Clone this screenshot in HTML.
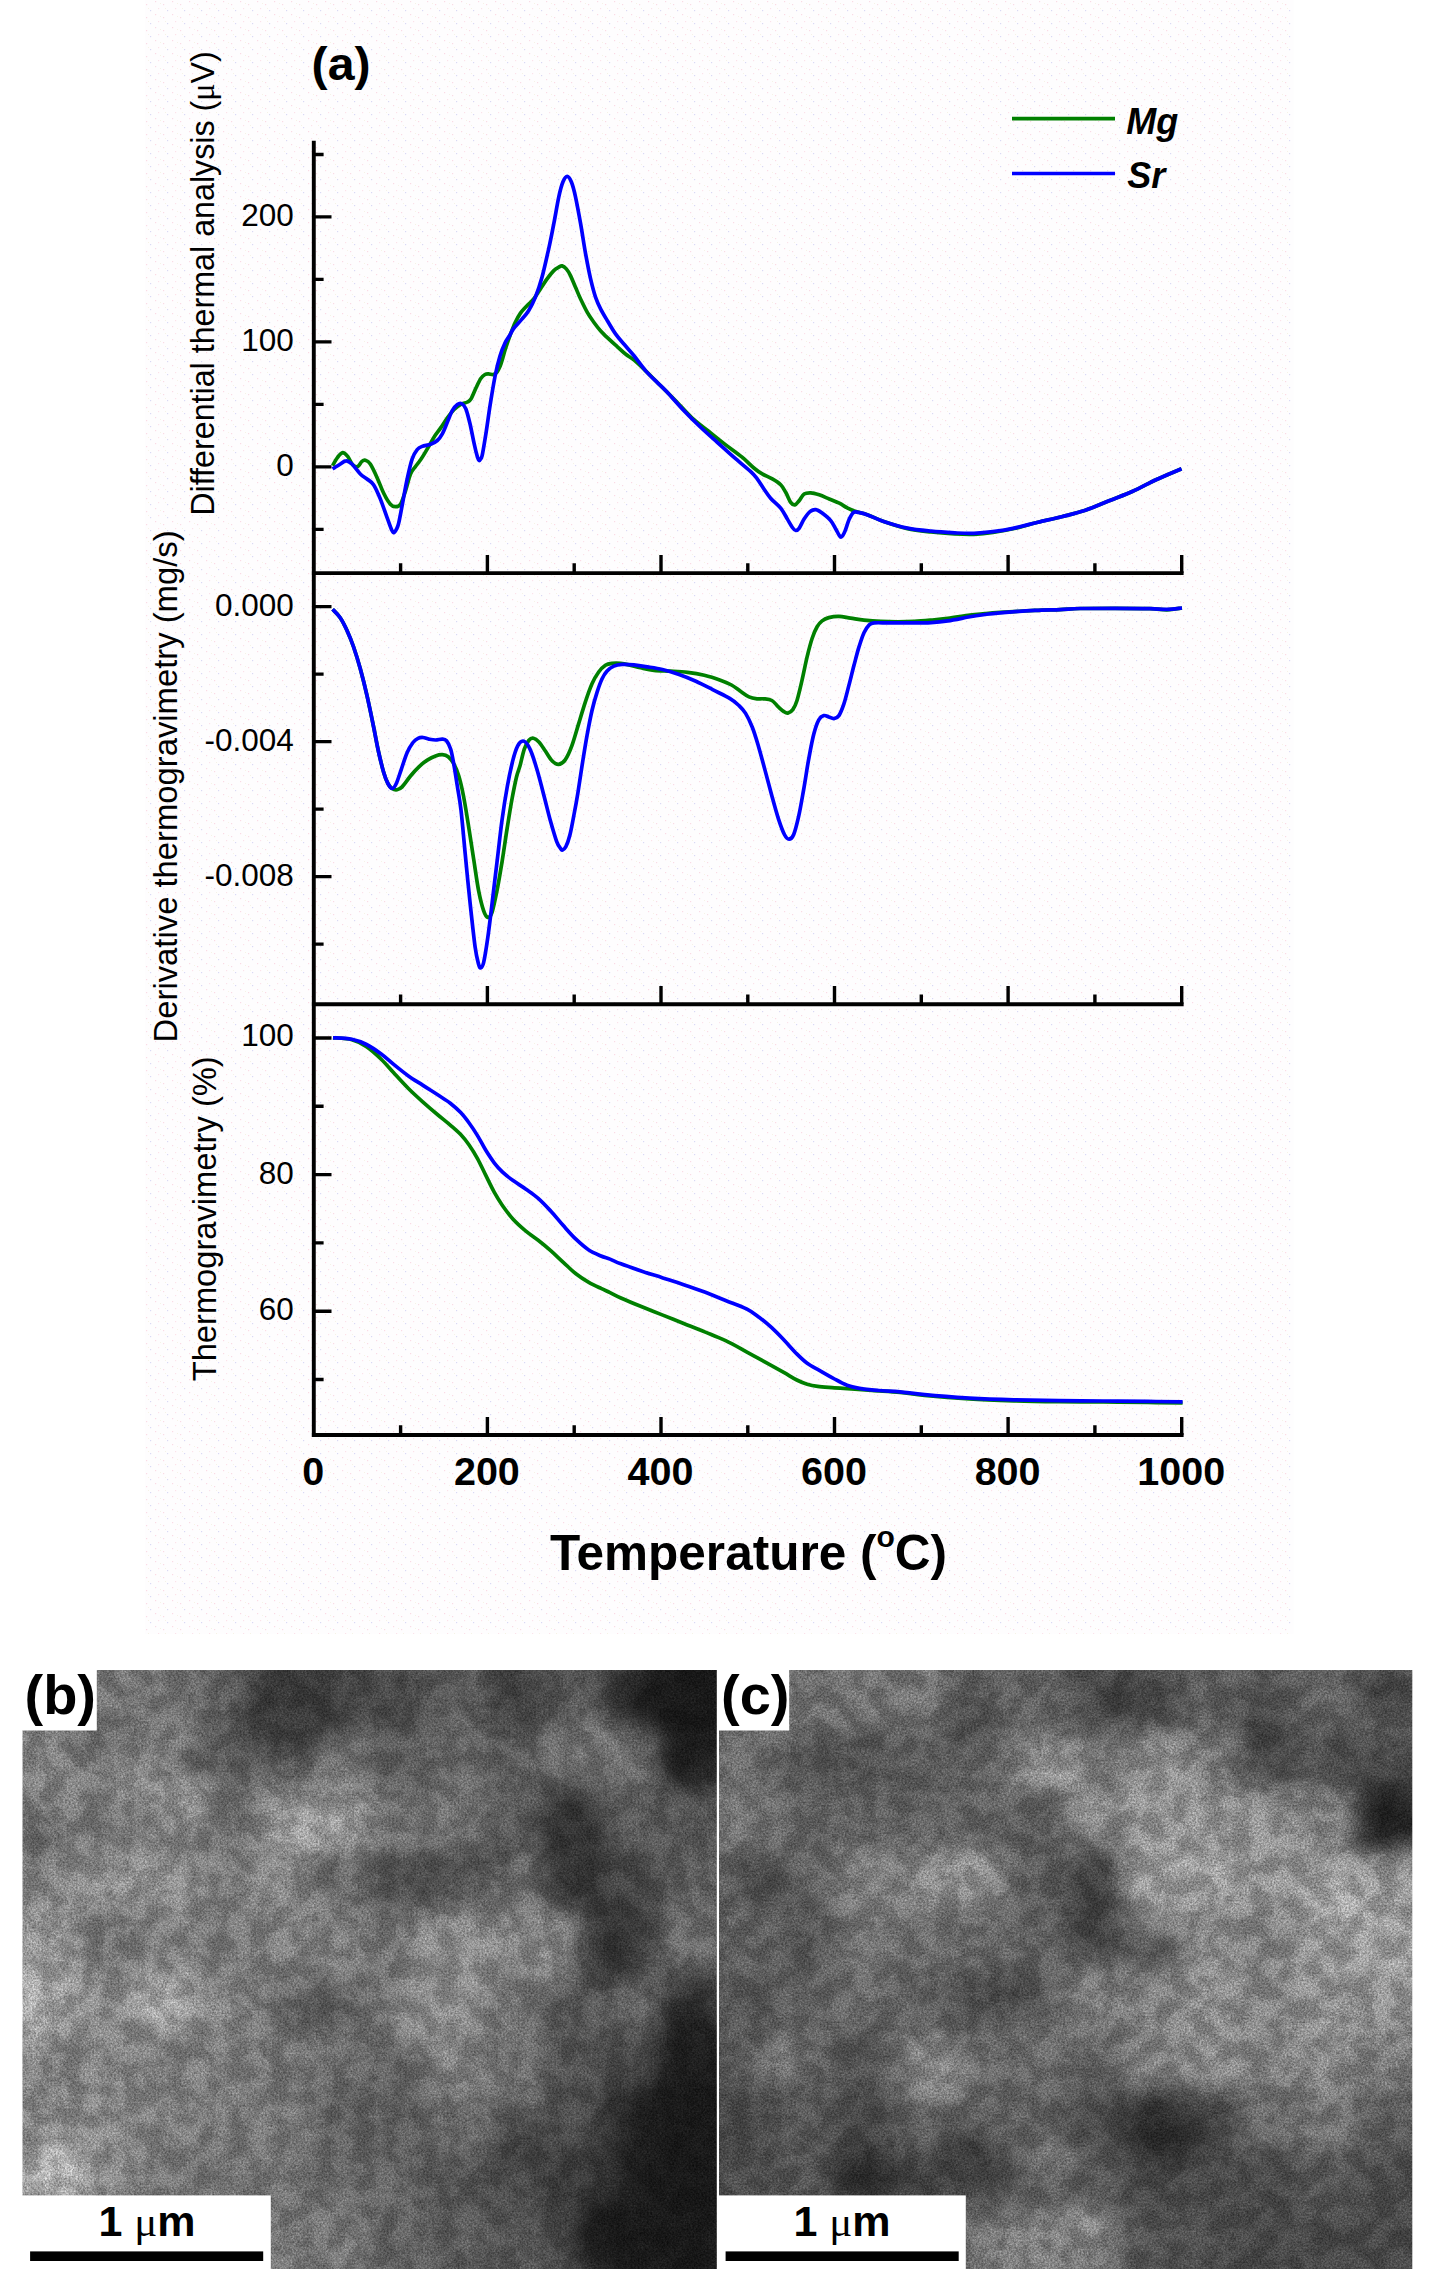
<!DOCTYPE html>
<html lang="en"><head><meta charset="utf-8"><title>Thermal analysis and SEM figure</title>
<style>html,body{margin:0;padding:0;background:#fff}body{width:1433px;height:2294px;overflow:hidden}svg{display:block}text{font-family:"Liberation Sans",Arial,sans-serif;fill:#000}.tk{font-size:31.5px;text-anchor:end}.xt{font-size:39.5px;font-weight:bold;text-anchor:middle}.yl{font-size:33.5px}.lg{font-size:36px;font-weight:bold;font-style:italic}</style></head><body>
<svg width="1433" height="2294" viewBox="0 0 1433 2294">
<defs>
<filter id="fb" x="0" y="0" width="100%" height="100%" filterUnits="objectBoundingBox" color-interpolation-filters="sRGB"><feGaussianBlur in="SourceGraphic" stdDeviation="11" result="base"/><feTurbulence type="fractalNoise" baseFrequency="0.048" numOctaves="4" seed="3" result="t1"/><feColorMatrix in="t1" type="matrix" values="1 0 0 0 0  1 0 0 0 0  1 0 0 0 0  0 0 0 0 1" result="n1a"/><feComponentTransfer in="n1a" result="n1"><feFuncR type="table" tableValues="0 0 0.02 0.12 0.5 0.88 0.98 1 1"/><feFuncG type="table" tableValues="0 0 0.02 0.12 0.5 0.88 0.98 1 1"/><feFuncB type="table" tableValues="0 0 0.02 0.12 0.5 0.88 0.98 1 1"/></feComponentTransfer><feTurbulence type="fractalNoise" baseFrequency="0.55" numOctaves="2" seed="8" result="t2"/><feColorMatrix in="t2" type="matrix" values="0 1 0 0 0  0 1 0 0 0  0 1 0 0 0  0 0 0 0 1" result="n2a"/><feGaussianBlur in="n2a" stdDeviation="0.5" result="n2"/><feComposite in="base" in2="n1" operator="arithmetic" k1="0.26" k2="0.87" k3="0" k4="0" result="m1"/><feComposite in="m1" in2="n2" operator="arithmetic" k1="0.7" k2="0.65" k3="0.08" k4="-0.04"/></filter>
<filter id="fc" x="0" y="0" width="100%" height="100%" filterUnits="objectBoundingBox" color-interpolation-filters="sRGB"><feGaussianBlur in="SourceGraphic" stdDeviation="11" result="base"/><feTurbulence type="fractalNoise" baseFrequency="0.048" numOctaves="4" seed="11" result="t1"/><feColorMatrix in="t1" type="matrix" values="1 0 0 0 0  1 0 0 0 0  1 0 0 0 0  0 0 0 0 1" result="n1a"/><feComponentTransfer in="n1a" result="n1"><feFuncR type="table" tableValues="0 0 0.02 0.12 0.5 0.88 0.98 1 1"/><feFuncG type="table" tableValues="0 0 0.02 0.12 0.5 0.88 0.98 1 1"/><feFuncB type="table" tableValues="0 0 0.02 0.12 0.5 0.88 0.98 1 1"/></feComponentTransfer><feTurbulence type="fractalNoise" baseFrequency="0.55" numOctaves="2" seed="16" result="t2"/><feColorMatrix in="t2" type="matrix" values="0 1 0 0 0  0 1 0 0 0  0 1 0 0 0  0 0 0 0 1" result="n2a"/><feGaussianBlur in="n2a" stdDeviation="0.5" result="n2"/><feComposite in="base" in2="n1" operator="arithmetic" k1="0.26" k2="0.87" k3="0" k4="0" result="m1"/><feComposite in="m1" in2="n2" operator="arithmetic" k1="0.7" k2="0.65" k3="0.08" k4="-0.04"/></filter>
<clipPath id="cb"><rect x="22.5" y="1670" width="694.3" height="599"/></clipPath>
<clipPath id="cc"><rect x="719" y="1670" width="693.3" height="599"/></clipPath>
<pattern id="dz" width="17" height="13" patternUnits="userSpaceOnUse"><rect x="2" y="1" width="1.2" height="1.2" fill="#fadbe5"/><rect x="10" y="4" width="1.2" height="1.2" fill="#fadbe5"/><rect x="5" y="8" width="1.2" height="1.2" fill="#fbe2ea"/><rect x="14" y="10" width="1.2" height="1.2" fill="#d9d9f5"/><rect x="7" y="3" width="1" height="1" fill="#f6f3e6"/><rect x="12" y="8" width="1" height="1" fill="#f6f3e6"/></pattern>
</defs>
<rect x="145" y="0" width="1148.5" height="1634" fill="#fefdfe"/>
<rect x="145" y="0" width="1148.5" height="1634" fill="url(#dz)"/>
<g stroke="#000" stroke-width="3.9" fill="none" stroke-linecap="butt">
<path d="M313.8 140.8V1437.0"/>
<path d="M311.9 573.1H1183.6"/>
<path d="M311.9 1004.2H1183.6"/>
<path d="M311.9 1435.0H1183.6"/>
<path stroke-width="3.4" d="M400.6 573.1v-9.8M487.4 573.1v-18.1M574.2 573.1v-9.8M661.0 573.1v-18.1M747.8 573.1v-9.8M834.5 573.1v-18.1M921.3 573.1v-9.8M1008.1 573.1v-18.1M1094.9 573.1v-9.8M1181.7 573.1v-18.1M400.6 1004.2v-9.8M487.4 1004.2v-18.1M574.2 1004.2v-9.8M661.0 1004.2v-18.1M747.8 1004.2v-9.8M834.5 1004.2v-18.1M921.3 1004.2v-9.8M1008.1 1004.2v-18.1M1094.9 1004.2v-9.8M1181.7 1004.2v-18.1M400.6 1435.0v-9.8M487.4 1435.0v-18.1M574.2 1435.0v-9.8M661.0 1435.0v-18.1M747.8 1435.0v-9.8M834.5 1435.0v-18.1M921.3 1435.0v-9.8M1008.1 1435.0v-18.1M1094.9 1435.0v-9.8M1181.7 1435.0v-18.1"/>
<path stroke-width="3.4" d="M313.8 216.9h17.7M313.8 341.9h17.7M313.8 466.9h17.7M313.8 606.6h17.7M313.8 741.6h17.7M313.8 876.6h17.7M313.8 1038.0h17.7M313.8 1174.6h17.7M313.8 1311.2h17.7M313.8 154.5h9.8M313.8 279.4h9.8M313.8 404.4h9.8M313.8 529.4h9.8M313.8 674.1h9.8M313.8 809.1h9.8M313.8 944.1h9.8M313.8 1106.3h9.8M313.8 1242.9h9.8M313.8 1379.5h9.8"/>
</g>
<g fill="none" stroke-width="3.7" stroke-linejoin="round" stroke-linecap="butt">
<path stroke="#008000" d="M332.6 465.6C333.4 464.2 335.9 459.5 337.6 457.3C339.3 455.1 341.0 452.8 342.7 452.6C344.4 452.5 346.0 454.4 347.7 456.4C349.4 458.4 351.0 463.1 352.7 464.8C354.4 466.5 356.2 467.1 357.7 466.5C359.2 465.9 360.6 462.4 361.9 461.4C363.2 460.4 363.9 459.9 365.3 460.3C366.7 460.7 368.4 461.1 370.3 464.0C372.2 466.9 374.8 472.5 377.0 477.4C379.2 482.3 381.5 488.8 383.7 493.3C385.9 497.8 388.4 502.0 390.4 504.2C392.3 506.4 393.7 506.7 395.4 506.7C397.1 506.7 398.8 506.8 400.5 504.2C402.2 501.6 403.8 495.8 405.5 490.8C407.2 485.8 408.8 478.1 410.5 474.0C412.2 469.9 413.8 468.9 415.5 466.5C417.2 464.1 418.6 462.7 420.6 459.8C422.6 456.9 425.1 452.7 427.3 448.9C429.5 445.1 431.8 440.7 434.0 437.2C436.2 433.7 438.5 431.1 440.7 427.9C442.9 424.7 445.2 421.0 447.4 417.9C449.6 414.8 451.9 411.7 454.1 409.5C456.3 407.3 458.6 405.8 460.8 404.5C463.0 403.2 465.8 403.0 467.5 402.0C469.2 401.0 469.8 401.0 471.2 398.6C472.6 396.2 474.6 390.9 476.2 387.5C477.8 384.1 479.3 380.7 480.8 378.5C482.3 376.3 483.7 375.3 485.0 374.5C486.3 373.7 487.0 373.8 488.4 373.8C489.8 373.8 492.0 374.9 493.4 374.6C494.8 374.3 495.9 373.4 497.0 372.0C498.1 370.6 499.2 368.3 500.2 366.0C501.2 363.7 502.0 360.8 502.8 358.0C503.6 355.2 504.0 353.3 505.2 349.5C506.4 345.7 508.5 339.5 510.2 335.0C511.9 330.5 513.5 326.1 515.2 322.5C516.9 318.9 518.3 316.1 520.3 313.3C522.3 310.5 524.8 308.1 527.0 305.7C529.2 303.3 531.5 301.8 533.7 299.0C535.9 296.2 538.2 292.4 540.4 289.0C542.6 285.6 544.9 282.0 547.1 278.9C549.3 275.8 551.8 272.6 553.8 270.6C555.8 268.7 557.4 268.0 558.8 267.2C560.2 266.4 560.9 265.6 562.1 265.9C563.4 266.2 564.9 267.3 566.3 268.9C567.7 270.5 569.0 272.5 570.5 275.6C572.0 278.7 573.8 283.4 575.5 287.3C577.2 291.2 578.6 294.8 580.6 299.0C582.6 303.2 585.1 308.5 587.3 312.4C589.5 316.3 591.8 319.4 594.0 322.5C596.2 325.6 598.2 328.1 600.7 330.9C603.2 333.7 606.2 336.5 609.0 339.2C611.8 341.9 614.6 344.3 617.4 346.8C620.2 349.3 623.0 352.1 625.8 354.3C628.6 356.5 630.9 357.4 634.2 360.2C637.6 363.0 642.0 367.3 645.9 371.1C649.8 374.9 652.9 378.1 657.6 382.8C662.4 387.5 668.7 393.7 674.4 399.5C680.1 405.3 686.2 412.5 691.9 417.8C697.6 423.1 703.0 426.7 708.6 431.2C714.2 435.7 719.8 440.3 725.4 444.6C731.0 448.9 737.4 453.3 742.1 457.2C746.9 461.1 750.5 465.2 753.9 468.0C757.2 470.8 759.1 472.1 762.2 473.9C765.3 475.7 769.2 477.1 772.3 478.9C775.4 480.7 778.5 482.6 780.7 484.8C782.9 487.0 784.0 489.4 785.7 492.3C787.4 495.2 789.2 500.3 790.7 502.4C792.2 504.5 793.5 505.2 794.9 504.9C796.3 504.6 797.6 502.5 799.1 500.7C800.6 498.9 802.2 495.3 804.1 494.0C806.0 492.7 808.3 492.7 810.8 492.8C813.3 492.9 816.1 493.8 819.2 494.8C822.3 495.8 825.9 497.6 829.2 499.0C832.6 500.4 836.2 501.7 839.3 503.2C842.4 504.7 844.9 506.8 847.7 508.2C850.5 509.6 852.6 510.5 856.0 511.6C859.4 512.7 863.2 513.2 867.8 514.9C872.4 516.5 877.1 519.2 883.7 521.5C890.3 523.8 899.5 526.9 907.4 528.6C915.3 530.4 923.3 531.1 931.2 532.0C939.1 532.9 947.8 533.5 954.9 533.9C962.0 534.3 967.6 534.5 973.9 534.3C980.2 534.1 986.2 533.5 992.9 532.5C999.6 531.5 1006.7 530.2 1014.2 528.5C1021.7 526.8 1030.0 524.2 1037.9 522.2C1045.8 520.2 1053.8 518.7 1061.7 516.7C1069.6 514.7 1077.5 513.0 1085.4 510.3C1093.3 507.6 1101.2 504.0 1109.1 500.8C1117.0 497.6 1124.9 494.9 1132.8 491.3C1140.7 487.8 1148.5 483.2 1156.6 479.5C1164.7 475.8 1177.3 470.6 1181.5 468.8"/>
<path stroke="#0000ff" d="M332.6 469.0C333.8 468.2 337.8 465.7 340.0 464.3C342.2 462.9 344.0 460.9 346.0 460.9C348.0 460.8 349.5 461.8 351.9 464.0C354.3 466.2 357.8 471.5 360.3 474.0C362.8 476.5 364.8 477.2 367.0 479.0C369.2 480.8 371.5 481.5 373.7 484.9C375.9 488.2 378.2 493.7 380.4 499.1C382.6 504.6 385.2 512.5 387.1 517.6C389.0 522.7 390.4 527.0 391.5 529.5C392.6 532.0 393.0 532.6 393.8 532.6C394.6 532.6 395.5 531.2 396.3 529.5C397.1 527.8 397.7 527.4 398.8 522.6C399.9 517.8 401.6 508.1 403.0 500.8C404.4 493.5 405.7 486.0 407.2 479.0C408.7 472.0 410.5 463.8 412.2 458.9C413.9 454.0 415.5 451.8 417.2 449.7C418.9 447.6 420.0 447.3 422.2 446.4C424.4 445.5 428.1 445.2 430.6 444.2C433.1 443.2 435.4 442.2 437.3 440.5C439.2 438.8 440.6 436.9 442.3 433.8C444.0 430.7 445.7 426.0 447.4 422.1C449.1 418.2 450.7 413.3 452.4 410.4C454.1 407.5 455.9 405.6 457.4 404.5C458.9 403.4 460.2 403.0 461.6 403.7C463.0 404.4 464.4 405.3 465.8 408.7C467.2 412.1 468.6 417.9 470.0 423.8C471.4 429.7 472.9 438.3 474.2 443.9C475.4 449.5 476.7 454.5 477.5 457.3C478.3 460.1 478.6 460.4 479.2 460.6C479.8 460.8 480.4 459.6 481.0 458.5C481.6 457.4 481.7 458.0 482.5 453.9C483.3 449.8 484.6 441.9 485.9 433.8C487.2 425.7 488.6 414.9 490.1 405.3C491.6 395.8 493.4 384.7 495.0 376.5C496.6 368.3 498.3 361.6 500.0 356.0C501.7 350.4 503.3 346.5 505.0 343.0C506.7 339.5 508.6 337.4 510.0 335.0C511.4 332.6 511.6 331.1 513.6 328.5C515.6 325.9 519.4 322.1 521.9 319.1C524.4 316.2 526.4 314.4 528.6 310.8C530.8 307.2 533.1 303.0 535.3 297.4C537.5 291.8 539.8 285.4 542.0 277.3C544.2 269.2 546.7 257.7 548.7 248.8C550.7 239.9 552.1 232.3 553.8 223.7C555.5 215.0 557.3 203.9 558.8 196.9C560.3 189.9 561.6 185.2 563.0 181.8C564.4 178.4 565.8 176.4 567.2 176.4C568.6 176.4 569.9 178.4 571.3 181.8C572.7 185.2 574.0 189.9 575.5 196.9C577.0 203.9 578.9 214.2 580.6 223.7C582.3 233.2 583.9 244.6 585.6 253.8C587.3 263.0 588.9 271.6 590.6 278.9C592.3 286.2 593.9 292.4 595.6 297.4C597.3 302.4 598.7 305.2 600.7 309.1C602.7 313.0 604.9 316.6 607.4 320.8C609.9 325.0 612.9 330.3 615.7 334.2C618.5 338.1 621.0 340.7 624.1 344.3C627.2 347.9 630.6 351.5 634.2 356.0C637.8 360.5 642.0 366.6 645.9 371.1C649.8 375.6 654.1 379.4 657.6 382.8C661.1 386.2 662.5 387.2 666.8 391.8C671.1 396.4 677.9 404.4 683.5 410.3C689.1 416.2 694.7 421.7 700.3 427.0C705.9 432.3 711.4 437.1 717.0 442.1C722.6 447.1 728.2 452.3 733.8 457.2C739.4 462.1 746.6 467.8 750.5 471.4C754.4 475.0 755.0 476.0 757.2 478.9C759.4 481.8 761.7 485.8 763.9 489.0C766.1 492.2 767.8 495.0 770.6 498.2C773.4 501.4 777.9 504.7 780.7 508.2C783.5 511.7 785.5 515.9 787.4 519.1C789.3 522.3 791.0 525.6 792.4 527.5C793.8 529.4 794.6 530.4 795.7 530.5C796.8 530.6 797.7 530.2 799.1 528.3C800.5 526.4 802.3 521.9 804.1 519.1C805.9 516.3 808.0 513.2 810.0 511.6C812.0 510.0 813.7 509.3 815.8 509.6C817.9 509.9 820.0 511.4 822.5 513.3C825.0 515.2 828.7 518.1 830.9 520.8C833.1 523.4 834.5 526.8 835.9 529.2C837.3 531.7 838.4 534.2 839.3 535.5C840.1 536.8 840.4 537.2 841.0 537.2C841.6 537.2 842.1 536.5 842.8 535.5C843.5 534.5 844.0 533.6 845.1 530.9C846.2 528.2 847.9 522.2 849.3 519.1C850.7 516.0 852.0 513.5 853.5 512.4C855.0 511.3 856.1 512.0 858.5 512.4C860.9 512.8 863.6 513.4 867.8 514.9C872.0 516.4 877.1 519.3 883.7 521.5C890.3 523.7 899.5 526.5 907.4 528.1C915.3 529.7 923.3 530.4 931.2 531.2C939.1 532.0 947.8 532.5 954.9 532.9C962.0 533.2 967.6 533.5 973.9 533.3C980.2 533.1 986.2 532.6 992.9 531.7C999.6 530.8 1006.7 529.7 1014.2 528.1C1021.7 526.5 1030.0 524.1 1037.9 522.2C1045.8 520.3 1053.8 518.7 1061.7 516.7C1069.6 514.7 1077.5 513.0 1085.4 510.3C1093.3 507.6 1101.2 504.0 1109.1 500.8C1117.0 497.6 1124.9 494.9 1132.8 491.3C1140.7 487.8 1148.5 483.2 1156.6 479.5C1164.7 475.8 1177.3 470.6 1181.5 468.8"/>
<path stroke="#008000" d="M332.6 609.3C333.9 610.7 337.8 614.2 340.2 617.7C342.6 621.2 344.7 625.4 346.9 630.3C349.1 635.2 351.4 640.6 353.6 647.0C355.8 653.4 358.1 660.7 360.3 668.8C362.5 676.9 364.8 685.8 367.0 695.6C369.2 705.4 371.8 717.9 373.7 727.4C375.6 736.9 377.0 745.0 378.7 752.5C380.4 760.0 382.2 767.4 383.7 772.6C385.2 777.8 386.5 780.9 387.9 783.5C389.3 786.1 390.6 787.5 392.1 788.5C393.6 789.5 395.4 790.0 397.1 789.7C398.8 789.4 399.9 789.2 402.1 786.9C404.3 784.6 407.7 779.4 410.5 776.0C413.3 772.6 416.1 769.4 418.9 766.8C421.7 764.1 424.5 761.9 427.3 760.1C430.1 758.3 433.1 756.8 435.6 755.9C438.1 755.0 440.2 754.6 442.3 754.7C444.4 754.8 446.2 755.1 448.2 756.7C450.2 758.3 452.3 761.1 454.1 764.3C455.9 767.5 457.2 770.8 458.8 776.0C460.4 781.2 461.9 787.8 463.4 795.5C464.9 803.2 466.3 812.0 468.0 822.5C469.7 833.0 471.8 847.4 473.6 858.8C475.4 870.1 476.9 882.0 478.6 890.6C480.3 899.2 482.1 906.2 483.6 910.7C485.1 915.2 486.4 917.1 487.8 917.4C489.2 917.7 490.5 916.9 492.0 912.4C493.5 907.9 495.3 899.0 497.0 890.6C498.7 882.2 500.3 872.4 502.0 862.1C503.7 851.8 505.4 839.2 507.1 828.6C508.8 818.0 510.5 807.1 512.1 798.5C513.7 789.9 515.2 782.5 516.5 777.0C517.8 771.5 518.7 770.4 520.0 765.8C521.3 761.1 522.8 753.4 524.3 749.1C525.8 744.9 527.4 742.1 528.9 740.3C530.4 738.5 531.8 738.0 533.5 738.3C535.2 738.6 537.0 740.0 538.9 742.0C540.8 744.0 542.9 747.4 545.0 750.5C547.1 753.6 549.5 758.2 551.8 760.5C554.0 762.8 556.3 764.5 558.5 764.4C560.7 764.3 563.0 763.0 565.2 759.9C567.4 756.8 569.7 751.7 571.9 745.7C574.1 739.7 576.4 731.2 578.6 723.9C580.8 716.6 583.1 708.8 585.3 702.1C587.5 695.4 589.8 688.7 592.0 683.7C594.2 678.7 596.5 675.1 598.7 672.0C600.9 668.9 603.2 666.8 605.4 665.3C607.6 663.8 609.6 663.6 612.1 663.3C614.6 663.0 617.7 663.0 620.5 663.3C623.3 663.6 625.5 664.1 628.9 664.9C632.2 665.6 636.4 666.9 640.6 667.8C644.8 668.7 649.0 669.8 654.0 670.3C659.0 670.8 665.2 670.8 670.8 671.1C676.4 671.4 681.9 671.6 687.5 672.3C693.1 673.0 698.7 673.9 704.3 675.3C709.9 676.6 716.5 678.8 721.0 680.4C725.5 682.0 728.2 683.2 731.5 685.0C734.8 686.8 737.6 689.3 740.5 691.3C743.4 693.3 746.2 695.6 749.0 696.9C751.8 698.2 754.6 698.6 757.0 698.9C759.4 699.2 761.0 698.5 763.5 698.8C766.0 699.1 769.4 699.1 771.9 700.5C774.4 701.9 776.6 705.4 778.6 707.2C780.6 709.0 782.1 710.4 783.6 711.4C785.1 712.4 786.3 713.4 787.8 713.1C789.3 712.8 791.3 711.8 792.8 709.7C794.3 707.6 795.5 705.4 797.0 700.5C798.5 695.6 800.3 687.7 802.0 680.4C803.7 673.1 805.4 663.9 807.1 656.9C808.8 649.9 810.4 643.5 812.1 638.5C813.8 633.5 815.4 629.7 817.1 626.8C818.8 623.9 820.2 622.4 822.1 620.9C824.0 619.4 826.0 618.4 828.8 617.6C831.6 616.9 835.3 616.3 838.9 616.4C842.5 616.5 846.4 617.5 850.6 618.1C854.8 618.7 859.0 619.6 864.0 620.1C869.0 620.6 875.2 621.1 880.8 621.4C886.4 621.7 891.9 621.8 897.5 621.8C903.1 621.8 908.7 621.7 914.3 621.4C919.9 621.1 925.4 620.6 931.0 620.1C936.6 619.6 941.3 619.2 947.8 618.4C954.3 617.6 963.8 615.9 970.0 615.1C976.2 614.3 980.0 614.1 985.0 613.6C990.0 613.1 991.7 612.9 1000.0 612.4C1008.3 611.9 1025.0 610.9 1035.0 610.4C1045.0 609.9 1052.5 609.9 1060.0 609.6C1067.5 609.3 1070.8 608.7 1080.0 608.5C1089.2 608.3 1103.3 608.3 1115.0 608.3C1126.7 608.3 1141.3 608.4 1150.0 608.6C1158.7 608.9 1161.7 609.9 1167.0 609.8C1172.3 609.7 1179.5 608.3 1182.0 608.0"/>
<path stroke="#0000ff" d="M332.6 609.3C333.9 610.7 337.8 614.2 340.2 617.7C342.6 621.2 344.7 625.4 346.9 630.3C349.1 635.2 351.4 640.6 353.6 647.0C355.8 653.4 358.1 660.7 360.3 668.8C362.5 676.9 364.8 685.8 367.0 695.6C369.2 705.4 371.8 717.9 373.7 727.4C375.6 736.9 377.0 745.0 378.7 752.5C380.4 760.0 382.2 767.4 383.7 772.6C385.2 777.8 386.5 780.9 387.9 783.5C389.3 786.1 390.7 788.5 392.1 788.5C393.5 788.5 394.8 786.7 396.3 783.5C397.8 780.3 399.5 774.5 401.3 769.3C403.1 764.1 405.2 757.0 407.2 752.5C409.1 748.0 411.2 744.9 413.0 742.5C414.8 740.1 416.3 739.1 418.0 738.3C419.7 737.5 421.3 737.4 423.1 737.5C424.9 737.6 426.8 738.7 428.9 739.1C431.0 739.5 433.4 740.0 435.6 740.0C437.8 740.0 440.5 739.0 442.3 739.1C444.1 739.2 445.1 739.1 446.5 740.8C447.9 742.5 449.4 745.0 450.7 749.2C452.0 753.4 453.0 759.8 454.1 766.0C455.2 772.2 456.2 779.2 457.4 786.5C458.5 793.8 459.7 798.8 461.0 810.0C462.3 821.2 463.7 838.1 465.2 853.8C466.7 869.5 468.5 888.4 470.2 904.0C471.9 919.6 473.8 937.6 475.2 947.6C476.6 957.6 477.7 960.9 478.6 964.3C479.5 967.6 480.0 968.0 480.8 967.7C481.6 967.4 482.4 967.6 483.6 962.6C484.8 957.6 486.4 947.3 487.8 937.5C489.2 927.7 490.5 916.6 492.0 904.0C493.5 891.4 495.3 876.1 497.0 862.1C498.7 848.1 500.3 832.9 502.0 820.3C503.7 807.7 505.5 796.4 507.3 786.5C509.1 776.6 511.0 767.7 512.7 760.9C514.4 754.1 516.0 749.1 517.7 745.8C519.4 742.5 521.2 741.1 522.9 741.0C524.6 740.9 526.3 742.8 527.8 745.0C529.3 747.2 530.5 750.0 532.0 754.0C533.5 758.0 534.9 762.5 536.9 769.3C538.9 776.1 541.5 786.1 543.7 794.7C546.0 803.3 548.2 812.9 550.4 820.7C552.6 828.5 555.0 836.9 556.7 841.6C558.4 846.3 559.8 847.3 560.7 848.7C561.6 850.1 561.5 850.3 562.3 850.0C563.1 849.7 564.4 849.5 565.7 847.0C567.0 844.5 568.5 840.5 569.9 835.0C571.3 829.5 572.8 821.1 574.1 814.0C575.5 806.9 576.7 800.2 578.0 792.2C579.3 784.2 580.5 775.4 582.0 766.0C583.5 756.6 585.3 744.9 587.0 735.6C588.7 726.4 590.3 717.8 592.0 710.5C593.7 703.2 595.4 697.4 597.1 692.1C598.8 686.8 600.4 682.2 602.1 678.7C603.8 675.2 605.2 673.2 607.1 671.1C609.0 669.0 611.3 667.2 613.8 666.1C616.3 665.0 618.9 664.6 622.2 664.4C625.6 664.2 630.0 664.5 633.9 664.9C637.8 665.3 640.9 665.8 645.6 666.6C650.4 667.4 656.8 668.2 662.4 669.5C668.0 670.8 673.5 672.5 679.1 674.5C684.7 676.5 690.3 678.7 695.9 681.2C701.5 683.7 707.0 686.7 712.6 689.6C718.2 692.5 725.3 695.8 729.7 698.4C734.1 701.0 736.2 703.0 738.9 705.5C741.5 708.0 743.4 709.8 745.6 713.4C747.8 717.0 750.3 722.2 752.3 727.3C754.3 732.4 755.6 736.7 757.8 744.0C759.9 751.3 762.9 762.2 765.2 770.9C767.6 779.6 769.7 787.9 771.9 796.0C774.1 804.1 776.5 813.0 778.6 819.4C780.7 825.8 782.7 831.2 784.4 834.5C786.1 837.8 787.5 839.2 789.0 839.2C790.5 839.2 792.1 838.4 793.7 834.5C795.3 830.6 797.0 823.6 798.7 816.1C800.4 808.6 802.0 798.8 803.7 789.3C805.4 779.8 807.0 768.3 808.7 759.1C810.4 749.9 812.1 740.5 813.8 734.0C815.5 727.5 817.1 722.9 818.8 719.8C820.5 716.7 822.1 716.1 823.8 715.6C825.5 715.1 827.1 716.4 828.8 716.9C830.5 717.4 832.2 718.8 833.9 718.6C835.6 718.4 837.2 718.1 838.9 715.6C840.6 713.1 842.2 708.9 843.9 703.9C845.6 698.9 847.2 691.8 848.9 685.4C850.6 679.0 852.3 671.7 854.0 665.3C855.7 658.9 857.3 652.3 859.0 646.9C860.7 641.5 862.3 636.3 864.0 632.7C865.7 629.1 867.3 626.7 869.0 625.1C870.7 623.5 870.8 623.3 874.1 622.9C877.5 622.5 882.4 622.9 889.1 622.9C895.8 622.9 907.3 622.9 914.3 622.9C921.3 622.9 925.4 622.9 931.0 622.6C936.6 622.3 941.3 621.9 947.8 620.9C954.3 619.9 963.8 617.9 970.0 616.8C976.2 615.7 980.0 615.2 985.0 614.5C990.0 613.8 991.7 613.5 1000.0 612.8C1008.3 612.1 1025.0 610.9 1035.0 610.4C1045.0 609.9 1052.5 609.9 1060.0 609.6C1067.5 609.3 1070.8 608.7 1080.0 608.5C1089.2 608.3 1103.3 608.3 1115.0 608.3C1126.7 608.3 1141.3 608.4 1150.0 608.6C1158.7 608.8 1161.7 609.4 1167.0 609.3C1172.3 609.2 1179.5 608.2 1182.0 608.0"/>
<path stroke="#008000" d="M333.0 1037.8C336.1 1038.1 346.3 1038.2 351.9 1039.7C357.5 1041.2 361.6 1043.3 366.5 1046.6C371.4 1049.8 376.7 1054.8 381.2 1059.2C385.7 1063.6 389.2 1067.9 393.7 1072.8C398.2 1077.7 403.5 1083.6 408.4 1088.5C413.3 1093.4 418.1 1097.7 423.0 1102.1C427.9 1106.5 433.1 1110.9 437.7 1114.7C442.2 1118.5 446.5 1121.8 450.3 1125.1C454.1 1128.4 457.6 1131.3 460.7 1134.6C463.8 1137.9 466.3 1141.0 469.1 1145.0C471.9 1149.0 474.7 1153.5 477.5 1158.6C480.3 1163.7 483.0 1169.8 485.8 1175.4C488.6 1181.0 491.4 1187.0 494.2 1192.1C497.0 1197.1 499.5 1201.2 502.6 1205.7C505.8 1210.2 509.3 1215.1 513.1 1219.3C516.9 1223.5 521.4 1227.4 525.6 1230.9C529.8 1234.4 534.0 1237.0 538.2 1240.3C542.4 1243.6 546.5 1247.0 550.7 1250.7C554.9 1254.4 559.1 1258.5 563.3 1262.3C567.5 1266.1 571.7 1270.5 575.9 1273.8C580.1 1277.1 584.2 1279.7 588.4 1282.1C592.6 1284.5 597.4 1286.7 601.0 1288.4C604.6 1290.2 606.7 1291.0 610.0 1292.6C613.3 1294.2 615.6 1295.6 620.9 1298.0C626.2 1300.4 634.9 1304.0 641.9 1306.8C648.9 1309.6 655.8 1312.3 662.8 1315.1C669.8 1317.9 676.7 1320.7 683.7 1323.5C690.7 1326.3 697.7 1329.0 704.7 1331.9C711.7 1334.8 718.6 1337.4 725.6 1340.7C732.6 1344.0 739.5 1348.0 746.5 1351.8C753.5 1355.6 761.2 1359.8 767.5 1363.3C773.8 1366.8 779.3 1369.9 784.2 1372.7C789.1 1375.5 793.0 1378.1 796.8 1380.0C800.6 1381.9 803.7 1383.2 807.2 1384.2C810.7 1385.2 813.2 1385.7 817.7 1386.3C822.2 1386.9 828.9 1387.3 834.5 1387.8C840.1 1388.2 844.9 1388.5 851.2 1389.0C857.5 1389.5 864.0 1389.9 872.1 1390.5C880.2 1391.1 891.2 1391.6 900.0 1392.4C908.8 1393.2 913.2 1394.3 924.7 1395.4C936.2 1396.5 954.4 1398.0 969.3 1398.9C984.2 1399.8 999.1 1400.3 1014.0 1400.8C1028.9 1401.3 1043.8 1401.5 1058.7 1401.7C1073.6 1401.9 1088.4 1401.9 1103.3 1402.0C1118.2 1402.1 1134.8 1402.2 1148.0 1402.4C1161.2 1402.6 1176.8 1402.9 1182.6 1403.0"/>
<path stroke="#0000ff" d="M333.0 1037.8C336.1 1038.0 346.3 1038.2 351.9 1039.3C357.5 1040.4 361.6 1042.0 366.5 1044.5C371.4 1047.0 376.7 1050.7 381.2 1054.0C385.7 1057.3 389.2 1060.8 393.7 1064.4C398.2 1068.1 403.5 1072.4 408.4 1075.9C413.3 1079.4 418.1 1082.2 423.0 1085.4C427.9 1088.6 433.1 1091.8 437.7 1094.8C442.2 1097.8 446.5 1100.2 450.3 1103.2C454.1 1106.2 457.6 1109.3 460.7 1112.6C463.8 1115.9 466.3 1119.2 469.1 1123.0C471.9 1126.8 474.7 1131.0 477.5 1135.6C480.3 1140.1 483.0 1145.8 485.8 1150.3C488.6 1154.8 491.4 1159.1 494.2 1162.8C497.0 1166.5 499.5 1169.2 502.6 1172.2C505.8 1175.2 509.3 1177.8 513.1 1180.6C516.9 1183.4 521.4 1186.0 525.6 1189.0C529.8 1192.0 534.0 1194.7 538.2 1198.4C542.4 1202.1 546.5 1206.5 550.7 1211.0C554.9 1215.5 559.1 1220.9 563.3 1225.6C567.5 1230.3 571.7 1235.2 575.9 1239.2C580.1 1243.2 584.2 1246.9 588.4 1249.7C592.6 1252.5 597.4 1254.4 601.0 1256.0C604.6 1257.6 606.7 1257.8 610.0 1259.1C613.3 1260.4 615.6 1261.8 620.9 1263.8C626.2 1265.8 634.9 1268.8 641.9 1271.2C648.9 1273.6 655.8 1275.6 662.8 1277.9C669.8 1280.2 676.7 1282.4 683.7 1284.8C690.7 1287.2 697.7 1289.5 704.7 1292.1C711.7 1294.7 718.6 1297.7 725.6 1300.5C732.6 1303.3 740.9 1306.1 746.5 1308.9C752.1 1311.7 754.9 1314.1 759.1 1317.2C763.3 1320.3 767.5 1323.9 771.7 1327.7C775.9 1331.5 780.0 1335.9 784.2 1340.3C788.4 1344.7 793.0 1350.1 796.8 1353.9C800.6 1357.7 803.4 1360.5 807.2 1363.3C811.0 1366.1 815.2 1368.0 819.8 1370.6C824.3 1373.2 830.0 1376.5 834.5 1379.0C839.0 1381.5 842.8 1383.7 847.0 1385.3C851.2 1386.9 854.4 1387.5 859.6 1388.4C864.8 1389.3 871.7 1389.9 878.4 1390.5C885.1 1391.1 892.3 1391.1 900.0 1391.8C907.7 1392.5 913.2 1393.7 924.7 1394.7C936.2 1395.8 954.4 1397.2 969.3 1398.1C984.2 1398.9 999.1 1399.4 1014.0 1399.8C1028.9 1400.2 1043.8 1400.5 1058.7 1400.7C1073.6 1400.9 1088.4 1400.9 1103.3 1401.0C1118.2 1401.1 1134.8 1401.2 1148.0 1401.4C1161.2 1401.6 1176.8 1401.8 1182.6 1401.9"/>
</g>
<path d="M1012 118.6H1115" stroke="#008000" stroke-width="3.6"/>
<path d="M1012 173.5H1115" stroke="#0000ff" stroke-width="3.6"/>
<text class="lg" x="1126.3" y="134">Mg</text>
<text class="lg" x="1127.2" y="188.4">Sr</text>
<text x="311.6" y="79.7" font-size="45.5" font-weight="bold" textLength="59" lengthAdjust="spacingAndGlyphs">(a)</text>
<text class="tk" x="293.8" y="226.1">200</text>
<text class="tk" x="293.8" y="350.6">100</text>
<text class="tk" x="293.8" y="475.9">0</text>
<text class="tk" x="293.8" y="616.2">0.000</text>
<text class="tk" x="293.8" y="751.2">-0.004</text>
<text class="tk" x="293.8" y="885.7">-0.008</text>
<text class="tk" x="293.8" y="1046.4">100</text>
<text class="tk" x="293.8" y="1183.6">80</text>
<text class="tk" x="293.8" y="1320.4">60</text>
<text class="xt" x="313.3" y="1485.2">0</text>
<text class="xt" x="486.9" y="1485.2">200</text>
<text class="xt" x="660.5" y="1485.2">400</text>
<text class="xt" x="834.0" y="1485.2">600</text>
<text class="xt" x="1007.6" y="1485.2">800</text>
<text class="xt" x="1181.2" y="1485.2">1000</text>
<text class="yl" transform="translate(213.7 515.7) rotate(-90)" textLength="464.5" lengthAdjust="spacingAndGlyphs">Differential thermal analysis (<tspan font-family="Liberation Serif,serif">μ</tspan>V)</text>
<text class="yl" transform="translate(176.8 1042.4) rotate(-90)" textLength="512" lengthAdjust="spacingAndGlyphs">Derivative thermogravimetry (mg/s)</text>
<text class="yl" transform="translate(215.9 1381.3) rotate(-90)" textLength="325" lengthAdjust="spacingAndGlyphs">Thermogravimetry (%)</text>
<text x="550" y="1569.5" font-size="49.5" font-weight="bold">Temperature (<tspan font-size="30" dy="-22.5">o</tspan><tspan dy="22.5">C)</tspan></text>
<g clip-path="url(#cb)">
<g filter="url(#fb)">
<rect x="-37.5" y="1610.0" width="814.3" height="719.0" fill="#6c6c6c"/>
<rect x="-37.5" y="1610.0" width="118.4" height="120.4" fill="#727272"/>
<rect x="80.4" y="1610.0" width="58.4" height="120.4" fill="#747474"/>
<rect x="138.2" y="1610.0" width="58.4" height="120.4" fill="#727272"/>
<rect x="196.1" y="1610.0" width="58.4" height="120.4" fill="#606060"/>
<rect x="253.9" y="1610.0" width="58.4" height="120.4" fill="#404040"/>
<rect x="311.8" y="1610.0" width="58.4" height="120.4" fill="#454545"/>
<rect x="369.6" y="1610.0" width="58.4" height="120.4" fill="#484848"/>
<rect x="427.5" y="1610.0" width="58.4" height="120.4" fill="#5c5c5c"/>
<rect x="485.4" y="1610.0" width="58.4" height="120.4" fill="#424242"/>
<rect x="543.2" y="1610.0" width="58.4" height="120.4" fill="#545454"/>
<rect x="601.1" y="1610.0" width="58.4" height="120.4" fill="#404040"/>
<rect x="658.9" y="1610.0" width="118.4" height="120.4" fill="#1a1a1a"/>
<rect x="-37.5" y="1729.9" width="118.4" height="60.4" fill="#818181"/>
<rect x="80.4" y="1729.9" width="58.4" height="60.4" fill="#7c7c7c"/>
<rect x="138.2" y="1729.9" width="58.4" height="60.4" fill="#7e7e7e"/>
<rect x="196.1" y="1729.9" width="58.4" height="60.4" fill="#5c5c5c"/>
<rect x="253.9" y="1729.9" width="58.4" height="60.4" fill="#636363"/>
<rect x="311.8" y="1729.9" width="58.4" height="60.4" fill="#707070"/>
<rect x="369.6" y="1729.9" width="58.4" height="60.4" fill="#5c5c5c"/>
<rect x="427.5" y="1729.9" width="58.4" height="60.4" fill="#666666"/>
<rect x="485.4" y="1729.9" width="58.4" height="60.4" fill="#5c5c5c"/>
<rect x="543.2" y="1729.9" width="58.4" height="60.4" fill="#606060"/>
<rect x="601.1" y="1729.9" width="58.4" height="60.4" fill="#6a6a6a"/>
<rect x="658.9" y="1729.9" width="118.4" height="60.4" fill="#272727"/>
<rect x="-37.5" y="1789.8" width="118.4" height="60.4" fill="#7c7c7c"/>
<rect x="80.4" y="1789.8" width="58.4" height="60.4" fill="#747474"/>
<rect x="138.2" y="1789.8" width="58.4" height="60.4" fill="#7e7e7e"/>
<rect x="196.1" y="1789.8" width="58.4" height="60.4" fill="#6a6a6a"/>
<rect x="253.9" y="1789.8" width="58.4" height="60.4" fill="#868686"/>
<rect x="311.8" y="1789.8" width="58.4" height="60.4" fill="#929292"/>
<rect x="369.6" y="1789.8" width="58.4" height="60.4" fill="#727272"/>
<rect x="427.5" y="1789.8" width="58.4" height="60.4" fill="#707070"/>
<rect x="485.4" y="1789.8" width="58.4" height="60.4" fill="#595959"/>
<rect x="543.2" y="1789.8" width="58.4" height="60.4" fill="#383838"/>
<rect x="601.1" y="1789.8" width="58.4" height="60.4" fill="#595959"/>
<rect x="658.9" y="1789.8" width="118.4" height="60.4" fill="#565656"/>
<rect x="-37.5" y="1849.7" width="118.4" height="60.4" fill="#818181"/>
<rect x="80.4" y="1849.7" width="58.4" height="60.4" fill="#8c8c8c"/>
<rect x="138.2" y="1849.7" width="58.4" height="60.4" fill="#8c8c8c"/>
<rect x="196.1" y="1849.7" width="58.4" height="60.4" fill="#7e7e7e"/>
<rect x="253.9" y="1849.7" width="58.4" height="60.4" fill="#848484"/>
<rect x="311.8" y="1849.7" width="58.4" height="60.4" fill="#727272"/>
<rect x="369.6" y="1849.7" width="58.4" height="60.4" fill="#545454"/>
<rect x="427.5" y="1849.7" width="58.4" height="60.4" fill="#545454"/>
<rect x="485.4" y="1849.7" width="58.4" height="60.4" fill="#6a6a6a"/>
<rect x="543.2" y="1849.7" width="58.4" height="60.4" fill="#383838"/>
<rect x="601.1" y="1849.7" width="58.4" height="60.4" fill="#454545"/>
<rect x="658.9" y="1849.7" width="118.4" height="60.4" fill="#5c5c5c"/>
<rect x="-37.5" y="1909.6" width="118.4" height="60.4" fill="#929292"/>
<rect x="80.4" y="1909.6" width="58.4" height="60.4" fill="#747474"/>
<rect x="138.2" y="1909.6" width="58.4" height="60.4" fill="#7c7c7c"/>
<rect x="196.1" y="1909.6" width="58.4" height="60.4" fill="#777777"/>
<rect x="253.9" y="1909.6" width="58.4" height="60.4" fill="#7e7e7e"/>
<rect x="311.8" y="1909.6" width="58.4" height="60.4" fill="#7c7c7c"/>
<rect x="369.6" y="1909.6" width="58.4" height="60.4" fill="#707070"/>
<rect x="427.5" y="1909.6" width="58.4" height="60.4" fill="#7c7c7c"/>
<rect x="485.4" y="1909.6" width="58.4" height="60.4" fill="#7e7e7e"/>
<rect x="543.2" y="1909.6" width="58.4" height="60.4" fill="#666666"/>
<rect x="601.1" y="1909.6" width="58.4" height="60.4" fill="#404040"/>
<rect x="658.9" y="1909.6" width="118.4" height="60.4" fill="#6a6a6a"/>
<rect x="-37.5" y="1969.5" width="118.4" height="60.4" fill="#959595"/>
<rect x="80.4" y="1969.5" width="58.4" height="60.4" fill="#888888"/>
<rect x="138.2" y="1969.5" width="58.4" height="60.4" fill="#989898"/>
<rect x="196.1" y="1969.5" width="58.4" height="60.4" fill="#818181"/>
<rect x="253.9" y="1969.5" width="58.4" height="60.4" fill="#707070"/>
<rect x="311.8" y="1969.5" width="58.4" height="60.4" fill="#727272"/>
<rect x="369.6" y="1969.5" width="58.4" height="60.4" fill="#6a6a6a"/>
<rect x="427.5" y="1969.5" width="58.4" height="60.4" fill="#868686"/>
<rect x="485.4" y="1969.5" width="58.4" height="60.4" fill="#727272"/>
<rect x="543.2" y="1969.5" width="58.4" height="60.4" fill="#545454"/>
<rect x="601.1" y="1969.5" width="58.4" height="60.4" fill="#636363"/>
<rect x="658.9" y="1969.5" width="118.4" height="60.4" fill="#404040"/>
<rect x="-37.5" y="2029.4" width="118.4" height="60.4" fill="#7e7e7e"/>
<rect x="80.4" y="2029.4" width="58.4" height="60.4" fill="#818181"/>
<rect x="138.2" y="2029.4" width="58.4" height="60.4" fill="#7c7c7c"/>
<rect x="196.1" y="2029.4" width="58.4" height="60.4" fill="#7c7c7c"/>
<rect x="253.9" y="2029.4" width="58.4" height="60.4" fill="#747474"/>
<rect x="311.8" y="2029.4" width="58.4" height="60.4" fill="#6a6a6a"/>
<rect x="369.6" y="2029.4" width="58.4" height="60.4" fill="#636363"/>
<rect x="427.5" y="2029.4" width="58.4" height="60.4" fill="#818181"/>
<rect x="485.4" y="2029.4" width="58.4" height="60.4" fill="#6d6d6d"/>
<rect x="543.2" y="2029.4" width="58.4" height="60.4" fill="#525252"/>
<rect x="601.1" y="2029.4" width="58.4" height="60.4" fill="#484848"/>
<rect x="658.9" y="2029.4" width="118.4" height="60.4" fill="#1d1d1d"/>
<rect x="-37.5" y="2089.3" width="118.4" height="60.4" fill="#848484"/>
<rect x="80.4" y="2089.3" width="58.4" height="60.4" fill="#868686"/>
<rect x="138.2" y="2089.3" width="58.4" height="60.4" fill="#7e7e7e"/>
<rect x="196.1" y="2089.3" width="58.4" height="60.4" fill="#777777"/>
<rect x="253.9" y="2089.3" width="58.4" height="60.4" fill="#777777"/>
<rect x="311.8" y="2089.3" width="58.4" height="60.4" fill="#606060"/>
<rect x="369.6" y="2089.3" width="58.4" height="60.4" fill="#5c5c5c"/>
<rect x="427.5" y="2089.3" width="58.4" height="60.4" fill="#6a6a6a"/>
<rect x="485.4" y="2089.3" width="58.4" height="60.4" fill="#636363"/>
<rect x="543.2" y="2089.3" width="58.4" height="60.4" fill="#4c4c4c"/>
<rect x="601.1" y="2089.3" width="58.4" height="60.4" fill="#2e2e2e"/>
<rect x="658.9" y="2089.3" width="118.4" height="60.4" fill="#1a1a1a"/>
<rect x="-37.5" y="2149.2" width="118.4" height="60.4" fill="#989898"/>
<rect x="80.4" y="2149.2" width="58.4" height="60.4" fill="#848484"/>
<rect x="138.2" y="2149.2" width="58.4" height="60.4" fill="#777777"/>
<rect x="196.1" y="2149.2" width="58.4" height="60.4" fill="#707070"/>
<rect x="253.9" y="2149.2" width="58.4" height="60.4" fill="#727272"/>
<rect x="311.8" y="2149.2" width="58.4" height="60.4" fill="#686868"/>
<rect x="369.6" y="2149.2" width="58.4" height="60.4" fill="#636363"/>
<rect x="427.5" y="2149.2" width="58.4" height="60.4" fill="#545454"/>
<rect x="485.4" y="2149.2" width="58.4" height="60.4" fill="#4a4a4a"/>
<rect x="543.2" y="2149.2" width="58.4" height="60.4" fill="#3b3b3b"/>
<rect x="601.1" y="2149.2" width="58.4" height="60.4" fill="#2a2a2a"/>
<rect x="658.9" y="2149.2" width="118.4" height="60.4" fill="#1a1a1a"/>
<rect x="-37.5" y="2209.1" width="118.4" height="120.4" fill="#868686"/>
<rect x="80.4" y="2209.1" width="58.4" height="120.4" fill="#7c7c7c"/>
<rect x="138.2" y="2209.1" width="58.4" height="120.4" fill="#777777"/>
<rect x="196.1" y="2209.1" width="58.4" height="120.4" fill="#747474"/>
<rect x="253.9" y="2209.1" width="58.4" height="120.4" fill="#747474"/>
<rect x="311.8" y="2209.1" width="58.4" height="120.4" fill="#747474"/>
<rect x="369.6" y="2209.1" width="58.4" height="120.4" fill="#606060"/>
<rect x="427.5" y="2209.1" width="58.4" height="120.4" fill="#595959"/>
<rect x="485.4" y="2209.1" width="58.4" height="120.4" fill="#545454"/>
<rect x="543.2" y="2209.1" width="58.4" height="120.4" fill="#484848"/>
<rect x="601.1" y="2209.1" width="58.4" height="120.4" fill="#1d1d1d"/>
<rect x="658.9" y="2209.1" width="118.4" height="120.4" fill="#1a1a1a"/>
<ellipse cx="288" cy="1712" rx="52" ry="46" fill="#383838" fill-opacity="0.85"/>
<ellipse cx="672" cy="1698" rx="55" ry="38" fill="#1a1a1a" fill-opacity="0.85"/>
<ellipse cx="690" cy="1740" rx="28" ry="32" fill="#1a1a1a" fill-opacity="0.85"/>
<ellipse cx="572" cy="1845" rx="34" ry="55" fill="#343434" fill-opacity="0.85"/>
<ellipse cx="608" cy="1945" rx="30" ry="45" fill="#313131" fill-opacity="0.85"/>
<ellipse cx="690" cy="2030" rx="30" ry="36" fill="#202020" fill-opacity="0.85"/>
<ellipse cx="672" cy="2170" rx="48" ry="100" fill="#1a1a1a" fill-opacity="0.85"/>
<ellipse cx="610" cy="2235" rx="40" ry="38" fill="#1a1a1a" fill-opacity="0.85"/>
<ellipse cx="110" cy="1745" rx="55" ry="16" fill="#666666" fill-opacity="0.85"/>
<ellipse cx="200" cy="1762" rx="35" ry="14" fill="#595959" fill-opacity="0.85"/>
<ellipse cx="40" cy="1836" rx="14" ry="30" fill="#5e5e5e" fill-opacity="0.85"/>
<ellipse cx="330" cy="1872" rx="22" ry="10" fill="#545454" fill-opacity="0.85"/>
<ellipse cx="367" cy="1896" rx="12" ry="10" fill="#4a4a4a" fill-opacity="0.85"/>
<ellipse cx="420" cy="1875" rx="42" ry="26" fill="#4f4f4f" fill-opacity="0.85"/>
<ellipse cx="495" cy="1858" rx="10" ry="14" fill="#2c2c2c" fill-opacity="0.85"/>
<ellipse cx="522" cy="2140" rx="32" ry="22" fill="#3e3e3e" fill-opacity="0.85"/>
<ellipse cx="320" cy="2010" rx="36" ry="22" fill="#545454" fill-opacity="0.85"/>
<ellipse cx="300" cy="1826" rx="34" ry="24" fill="#a2a2a2" fill-opacity="0.85"/>
<ellipse cx="36" cy="2010" rx="24" ry="38" fill="#a9a9a9" fill-opacity="0.85"/>
<ellipse cx="62" cy="2166" rx="27" ry="27" fill="#b8b8b8" fill-opacity="0.85"/>
<ellipse cx="452" cy="1955" rx="50" ry="45" fill="#8b8b8b" fill-opacity="0.85"/>
<ellipse cx="548" cy="1945" rx="28" ry="42" fill="#888888" fill-opacity="0.85"/>
<ellipse cx="420" cy="2012" rx="38" ry="32" fill="#8b8b8b" fill-opacity="0.85"/>
<ellipse cx="158" cy="2004" rx="24" ry="22" fill="#a9a9a9" fill-opacity="0.85"/>
<ellipse cx="190" cy="1798" rx="24" ry="22" fill="#9a9a9a" fill-opacity="0.85"/>
<ellipse cx="138" cy="1778" rx="22" ry="28" fill="#929292" fill-opacity="0.85"/>
<ellipse cx="590" cy="1745" rx="50" ry="30" fill="#727272" fill-opacity="0.85"/>
</g></g>
<g clip-path="url(#cc)">
<g filter="url(#fc)">
<rect x="659.5" y="1610.0" width="812.8" height="719.0" fill="#6c6c6c"/>
<rect x="659.5" y="1610.0" width="118.2" height="120.4" fill="#6d6d6d"/>
<rect x="777.2" y="1610.0" width="58.2" height="120.4" fill="#707070"/>
<rect x="835.0" y="1610.0" width="58.2" height="120.4" fill="#707070"/>
<rect x="892.7" y="1610.0" width="58.2" height="120.4" fill="#727272"/>
<rect x="950.4" y="1610.0" width="58.2" height="120.4" fill="#5c5c5c"/>
<rect x="1008.2" y="1610.0" width="58.2" height="120.4" fill="#606060"/>
<rect x="1065.9" y="1610.0" width="58.2" height="120.4" fill="#4f4f4f"/>
<rect x="1123.6" y="1610.0" width="58.2" height="120.4" fill="#4a4a4a"/>
<rect x="1181.4" y="1610.0" width="58.2" height="120.4" fill="#5c5c5c"/>
<rect x="1239.1" y="1610.0" width="58.2" height="120.4" fill="#565656"/>
<rect x="1296.8" y="1610.0" width="58.2" height="120.4" fill="#606060"/>
<rect x="1354.6" y="1610.0" width="118.2" height="120.4" fill="#5c5c5c"/>
<rect x="659.5" y="1729.9" width="118.2" height="60.4" fill="#6a6a6a"/>
<rect x="777.2" y="1729.9" width="58.2" height="60.4" fill="#565656"/>
<rect x="835.0" y="1729.9" width="58.2" height="60.4" fill="#525252"/>
<rect x="892.7" y="1729.9" width="58.2" height="60.4" fill="#5c5c5c"/>
<rect x="950.4" y="1729.9" width="58.2" height="60.4" fill="#636363"/>
<rect x="1008.2" y="1729.9" width="58.2" height="60.4" fill="#7c7c7c"/>
<rect x="1065.9" y="1729.9" width="58.2" height="60.4" fill="#727272"/>
<rect x="1123.6" y="1729.9" width="58.2" height="60.4" fill="#848484"/>
<rect x="1181.4" y="1729.9" width="58.2" height="60.4" fill="#777777"/>
<rect x="1239.1" y="1729.9" width="58.2" height="60.4" fill="#4c4c4c"/>
<rect x="1296.8" y="1729.9" width="58.2" height="60.4" fill="#545454"/>
<rect x="1354.6" y="1729.9" width="118.2" height="60.4" fill="#4c4c4c"/>
<rect x="659.5" y="1789.8" width="118.2" height="60.4" fill="#727272"/>
<rect x="777.2" y="1789.8" width="58.2" height="60.4" fill="#636363"/>
<rect x="835.0" y="1789.8" width="58.2" height="60.4" fill="#606060"/>
<rect x="892.7" y="1789.8" width="58.2" height="60.4" fill="#606060"/>
<rect x="950.4" y="1789.8" width="58.2" height="60.4" fill="#606060"/>
<rect x="1008.2" y="1789.8" width="58.2" height="60.4" fill="#5c5c5c"/>
<rect x="1065.9" y="1789.8" width="58.2" height="60.4" fill="#777777"/>
<rect x="1123.6" y="1789.8" width="58.2" height="60.4" fill="#929292"/>
<rect x="1181.4" y="1789.8" width="58.2" height="60.4" fill="#909090"/>
<rect x="1239.1" y="1789.8" width="58.2" height="60.4" fill="#8e8e8e"/>
<rect x="1296.8" y="1789.8" width="58.2" height="60.4" fill="#7e7e7e"/>
<rect x="1354.6" y="1789.8" width="118.2" height="60.4" fill="#313131"/>
<rect x="659.5" y="1849.7" width="118.2" height="60.4" fill="#5e5e5e"/>
<rect x="777.2" y="1849.7" width="58.2" height="60.4" fill="#606060"/>
<rect x="835.0" y="1849.7" width="58.2" height="60.4" fill="#7e7e7e"/>
<rect x="892.7" y="1849.7" width="58.2" height="60.4" fill="#7e7e7e"/>
<rect x="950.4" y="1849.7" width="58.2" height="60.4" fill="#777777"/>
<rect x="1008.2" y="1849.7" width="58.2" height="60.4" fill="#5c5c5c"/>
<rect x="1065.9" y="1849.7" width="58.2" height="60.4" fill="#4f4f4f"/>
<rect x="1123.6" y="1849.7" width="58.2" height="60.4" fill="#909090"/>
<rect x="1181.4" y="1849.7" width="58.2" height="60.4" fill="#989898"/>
<rect x="1239.1" y="1849.7" width="58.2" height="60.4" fill="#909090"/>
<rect x="1296.8" y="1849.7" width="58.2" height="60.4" fill="#929292"/>
<rect x="1354.6" y="1849.7" width="118.2" height="60.4" fill="#909090"/>
<rect x="659.5" y="1909.6" width="118.2" height="60.4" fill="#606060"/>
<rect x="777.2" y="1909.6" width="58.2" height="60.4" fill="#565656"/>
<rect x="835.0" y="1909.6" width="58.2" height="60.4" fill="#707070"/>
<rect x="892.7" y="1909.6" width="58.2" height="60.4" fill="#6d6d6d"/>
<rect x="950.4" y="1909.6" width="58.2" height="60.4" fill="#686868"/>
<rect x="1008.2" y="1909.6" width="58.2" height="60.4" fill="#606060"/>
<rect x="1065.9" y="1909.6" width="58.2" height="60.4" fill="#525252"/>
<rect x="1123.6" y="1909.6" width="58.2" height="60.4" fill="#777777"/>
<rect x="1181.4" y="1909.6" width="58.2" height="60.4" fill="#868686"/>
<rect x="1239.1" y="1909.6" width="58.2" height="60.4" fill="#818181"/>
<rect x="1296.8" y="1909.6" width="58.2" height="60.4" fill="#929292"/>
<rect x="1354.6" y="1909.6" width="118.2" height="60.4" fill="#9c9c9c"/>
<rect x="659.5" y="1969.5" width="118.2" height="60.4" fill="#565656"/>
<rect x="777.2" y="1969.5" width="58.2" height="60.4" fill="#606060"/>
<rect x="835.0" y="1969.5" width="58.2" height="60.4" fill="#686868"/>
<rect x="892.7" y="1969.5" width="58.2" height="60.4" fill="#5e5e5e"/>
<rect x="950.4" y="1969.5" width="58.2" height="60.4" fill="#505050"/>
<rect x="1008.2" y="1969.5" width="58.2" height="60.4" fill="#606060"/>
<rect x="1065.9" y="1969.5" width="58.2" height="60.4" fill="#747474"/>
<rect x="1123.6" y="1969.5" width="58.2" height="60.4" fill="#7e7e7e"/>
<rect x="1181.4" y="1969.5" width="58.2" height="60.4" fill="#8b8b8b"/>
<rect x="1239.1" y="1969.5" width="58.2" height="60.4" fill="#848484"/>
<rect x="1296.8" y="1969.5" width="58.2" height="60.4" fill="#909090"/>
<rect x="1354.6" y="1969.5" width="118.2" height="60.4" fill="#909090"/>
<rect x="659.5" y="2029.4" width="118.2" height="60.4" fill="#595959"/>
<rect x="777.2" y="2029.4" width="58.2" height="60.4" fill="#606060"/>
<rect x="835.0" y="2029.4" width="58.2" height="60.4" fill="#525252"/>
<rect x="892.7" y="2029.4" width="58.2" height="60.4" fill="#727272"/>
<rect x="950.4" y="2029.4" width="58.2" height="60.4" fill="#686868"/>
<rect x="1008.2" y="2029.4" width="58.2" height="60.4" fill="#6a6a6a"/>
<rect x="1065.9" y="2029.4" width="58.2" height="60.4" fill="#636363"/>
<rect x="1123.6" y="2029.4" width="58.2" height="60.4" fill="#7e7e7e"/>
<rect x="1181.4" y="2029.4" width="58.2" height="60.4" fill="#888888"/>
<rect x="1239.1" y="2029.4" width="58.2" height="60.4" fill="#818181"/>
<rect x="1296.8" y="2029.4" width="58.2" height="60.4" fill="#868686"/>
<rect x="1354.6" y="2029.4" width="118.2" height="60.4" fill="#7a7a7a"/>
<rect x="659.5" y="2089.3" width="118.2" height="60.4" fill="#484848"/>
<rect x="777.2" y="2089.3" width="58.2" height="60.4" fill="#565656"/>
<rect x="835.0" y="2089.3" width="58.2" height="60.4" fill="#484848"/>
<rect x="892.7" y="2089.3" width="58.2" height="60.4" fill="#606060"/>
<rect x="950.4" y="2089.3" width="58.2" height="60.4" fill="#606060"/>
<rect x="1008.2" y="2089.3" width="58.2" height="60.4" fill="#606060"/>
<rect x="1065.9" y="2089.3" width="58.2" height="60.4" fill="#4c4c4c"/>
<rect x="1123.6" y="2089.3" width="58.2" height="60.4" fill="#343434"/>
<rect x="1181.4" y="2089.3" width="58.2" height="60.4" fill="#484848"/>
<rect x="1239.1" y="2089.3" width="58.2" height="60.4" fill="#686868"/>
<rect x="1296.8" y="2089.3" width="58.2" height="60.4" fill="#747474"/>
<rect x="1354.6" y="2089.3" width="118.2" height="60.4" fill="#5c5c5c"/>
<rect x="659.5" y="2149.2" width="118.2" height="60.4" fill="#4c4c4c"/>
<rect x="777.2" y="2149.2" width="58.2" height="60.4" fill="#525252"/>
<rect x="835.0" y="2149.2" width="58.2" height="60.4" fill="#343434"/>
<rect x="892.7" y="2149.2" width="58.2" height="60.4" fill="#424242"/>
<rect x="950.4" y="2149.2" width="58.2" height="60.4" fill="#484848"/>
<rect x="1008.2" y="2149.2" width="58.2" height="60.4" fill="#5c5c5c"/>
<rect x="1065.9" y="2149.2" width="58.2" height="60.4" fill="#565656"/>
<rect x="1123.6" y="2149.2" width="58.2" height="60.4" fill="#484848"/>
<rect x="1181.4" y="2149.2" width="58.2" height="60.4" fill="#4a4a4a"/>
<rect x="1239.1" y="2149.2" width="58.2" height="60.4" fill="#4a4a4a"/>
<rect x="1296.8" y="2149.2" width="58.2" height="60.4" fill="#565656"/>
<rect x="1354.6" y="2149.2" width="118.2" height="60.4" fill="#4c4c4c"/>
<rect x="659.5" y="2209.1" width="118.2" height="120.4" fill="#4c4c4c"/>
<rect x="777.2" y="2209.1" width="58.2" height="120.4" fill="#525252"/>
<rect x="835.0" y="2209.1" width="58.2" height="120.4" fill="#363636"/>
<rect x="892.7" y="2209.1" width="58.2" height="120.4" fill="#424242"/>
<rect x="950.4" y="2209.1" width="58.2" height="120.4" fill="#747474"/>
<rect x="1008.2" y="2209.1" width="58.2" height="120.4" fill="#7c7c7c"/>
<rect x="1065.9" y="2209.1" width="58.2" height="120.4" fill="#727272"/>
<rect x="1123.6" y="2209.1" width="58.2" height="120.4" fill="#525252"/>
<rect x="1181.4" y="2209.1" width="58.2" height="120.4" fill="#4c4c4c"/>
<rect x="1239.1" y="2209.1" width="58.2" height="120.4" fill="#484848"/>
<rect x="1296.8" y="2209.1" width="58.2" height="120.4" fill="#484848"/>
<rect x="1354.6" y="2209.1" width="118.2" height="120.4" fill="#484848"/>
<ellipse cx="1385" cy="1690" rx="30" ry="18" fill="#363636" fill-opacity="0.85"/>
<ellipse cx="1390" cy="1815" rx="30" ry="36" fill="#202020" fill-opacity="0.85"/>
<ellipse cx="1165" cy="2135" rx="36" ry="34" fill="#2c2c2c" fill-opacity="0.85"/>
<ellipse cx="862" cy="2175" rx="30" ry="28" fill="#2e2e2e" fill-opacity="0.85"/>
<ellipse cx="1092" cy="1905" rx="28" ry="52" fill="#3e3e3e" fill-opacity="0.85"/>
<ellipse cx="1150" cy="1950" rx="28" ry="14" fill="#454545" fill-opacity="0.85"/>
<ellipse cx="1125" cy="1700" rx="28" ry="24" fill="#3b3b3b" fill-opacity="0.85"/>
<ellipse cx="965" cy="1725" rx="25" ry="22" fill="#454545" fill-opacity="0.85"/>
<ellipse cx="1262" cy="1728" rx="28" ry="16" fill="#3b3b3b" fill-opacity="0.85"/>
<ellipse cx="1335" cy="1758" rx="12" ry="14" fill="#363636" fill-opacity="0.85"/>
<ellipse cx="760" cy="1880" rx="22" ry="26" fill="#424242" fill-opacity="0.85"/>
<ellipse cx="1010" cy="1990" rx="30" ry="18" fill="#424242" fill-opacity="0.85"/>
<ellipse cx="970" cy="2150" rx="26" ry="20" fill="#343434" fill-opacity="0.85"/>
<ellipse cx="1340" cy="1900" rx="40" ry="24" fill="#a4a4a4" fill-opacity="0.85"/>
<ellipse cx="1170" cy="1775" rx="22" ry="20" fill="#9a9a9a" fill-opacity="0.85"/>
<ellipse cx="1095" cy="1810" rx="24" ry="18" fill="#929292" fill-opacity="0.85"/>
<ellipse cx="1160" cy="1880" rx="40" ry="30" fill="#9a9a9a" fill-opacity="0.85"/>
<ellipse cx="960" cy="1875" rx="45" ry="30" fill="#909090" fill-opacity="0.85"/>
<ellipse cx="1060" cy="1770" rx="35" ry="22" fill="#959595" fill-opacity="0.85"/>
<ellipse cx="936" cy="2070" rx="36" ry="33" fill="#868686" fill-opacity="0.85"/>
<ellipse cx="783" cy="2060" rx="21" ry="21" fill="#848484" fill-opacity="0.85"/>
<ellipse cx="1085" cy="2225" rx="20" ry="20" fill="#929292" fill-opacity="0.85"/>
<ellipse cx="1090" cy="2000" rx="24" ry="36" fill="#818181" fill-opacity="0.85"/>
<ellipse cx="1055" cy="2160" rx="22" ry="16" fill="#7c7c7c" fill-opacity="0.85"/>
</g></g>
<rect x="22" y="1669.5" width="74.8" height="61" fill="#fff"/>
<text x="24.5" y="1714" font-size="56" font-weight="bold">(b)</text>
<rect x="717" y="1669.5" width="72.2" height="61" fill="#fff"/>
<text x="721" y="1714" font-size="56" font-weight="bold">(c)</text>
<rect x="22" y="2195.4" width="248.8" height="75" fill="#fff"/>
<rect x="30.1" y="2251.4" width="233.1" height="9.6" fill="#000"/>
<text x="147" y="2235.9" font-size="43" font-weight="bold" text-anchor="middle">1 <tspan font-family="Liberation Serif,serif" font-weight="normal">μ</tspan>m</text>
<rect x="717" y="2195.4" width="248.8" height="75" fill="#fff"/>
<rect x="725.6" y="2251.4" width="233.1" height="9.6" fill="#000"/>
<text x="842" y="2235.9" font-size="43" font-weight="bold" text-anchor="middle">1 <tspan font-family="Liberation Serif,serif" font-weight="normal">μ</tspan>m</text>
</svg></body></html>
